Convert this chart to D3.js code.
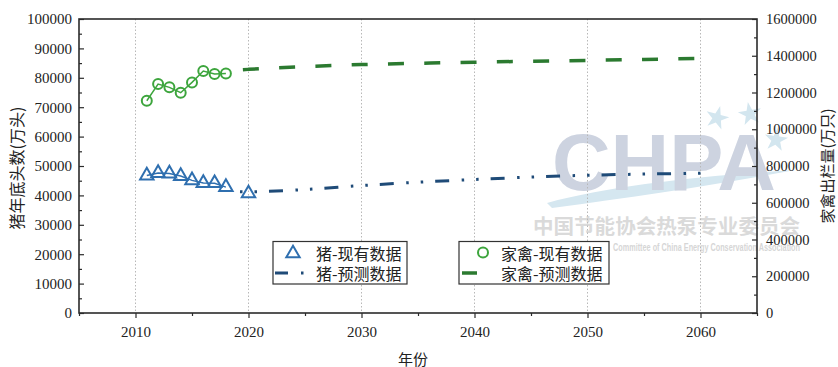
<!DOCTYPE html>
<html>
<head>
<meta charset="utf-8">
<script src="https://cdn.jsdelivr.net/npm/d3@7"></script>
<style>
  html, body { margin: 0; padding: 0; background: #fff; }
  svg { display: block; }
</style>
</head>
<body>
<svg id="chart" width="838" height="367"></svg>
<script>
// ---- data ----
const pigActualYears = [2011, 2012, 2013, 2014, 2015, 2016, 2017, 2018, 2020];
const pigActual = [46767, 47592, 47411, 46583, 45113, 44209, 44159, 42817, 40650];

const poultryActualYears = [2011, 2012, 2013, 2014, 2015, 2016, 2017, 2018];
const poultryActual = [1155000, 1246000, 1228000, 1199000, 1255000, 1317000, 1301000, 1304000];

const forecastYears = [2019, 2020, 2025, 2030, 2035, 2040, 2045, 2050, 2055, 2060];
const pigForecast = [41300, 41250, 42000, 43350, 44500, 45400, 46250, 46850, 47250, 47550];
const poultryForecast = [1322000, 1326000, 1341000, 1352000, 1359000, 1365000, 1370000, 1375000, 1380000, 1385000];

const yearTicks = [2010, 2020, 2030, 2040, 2050, 2060];
const yearMinorTicks = [2005, 2015, 2025, 2035, 2045, 2055, 2065];
const pigTicks = [0, 10000, 20000, 30000, 40000, 50000, 60000, 70000, 80000, 90000, 100000];
const poultryTicks = [0, 200000, 400000, 600000, 800000, 1000000, 1200000, 1400000, 1600000];

const legendLabels = ["猪-现有数据", "猪-预测数据", "家禽-现有数据", "家禽-预测数据"];

// ---- layout ----
const plot = { left: 79, right: 757, top: 19, bottom: 313 };
const numFont = "'Liberation Serif', 'DejaVu Serif', serif";
const cjkFont = "'Noto Sans CJK SC', 'Noto Sans', sans-serif";

const pigBlue = "#2f6faf";
const pigLine = "#1f4b78";
const poultryGreen = "#3da53d";
const poultryLine = "#2b7a30";
const axisColor = "#2b2b2b";

const svg = d3.select("#chart");

const x = d3.scaleLinear().domain([2005, 2065]).range([plot.left, plot.right]);
const yL = d3.scaleLinear().domain([0, 100000]).range([plot.bottom, plot.top]);
const yR = d3.scaleLinear().domain([0, 1600000]).range([plot.bottom, plot.top]);

// ---- association logo in the background ----
const wm = svg.append("g").attr("class", "logo");
wm.append("path")
  .attr("d", "M547,203 C610,186 700,176 795,170 C720,184 640,196 552,208 Z")
  .attr("fill", "#d5e7f0");
wm.append("text")
  .attr("x", 552).attr("y", 190)
  .attr("font-family", "'Liberation Sans', Arial, sans-serif")
  .attr("font-weight", "bold")
  .attr("font-size", 80)
  .attr("textLength", 224)
  .attr("lengthAdjust", "spacingAndGlyphs")
  .attr("fill", "#cdd3e0")
  .text("CHPA");
[[717, 118, 15], [750, 114, -10], [776, 140, 8]].forEach(([cx, cy, r]) => {
  wm.append("path")
    .attr("d", d3.symbol().type(d3.symbolStar).size(170)())
    .attr("transform", `translate(${cx},${cy}) rotate(${r})`)
    .attr("fill", "#d3e6ef");
});
wm.append("text")
  .attr("x", 533).attr("y", 234)
  .attr("font-family", cjkFont)
  .attr("font-weight", "bold")
  .attr("font-size", 20)
  .attr("textLength", 267)
  .attr("lengthAdjust", "spacingAndGlyphs")
  .attr("fill", "#dadada")
  .text("中国节能协会热泵专业委员会");
wm.append("text")
  .attr("x", 613).attr("y", 251)
  .attr("font-family", "'Liberation Sans', Arial, sans-serif")
  .attr("font-weight", "bold")
  .attr("font-size", 10)
  .attr("textLength", 187)
  .attr("lengthAdjust", "spacingAndGlyphs")
  .attr("fill", "#d6d6d6")
  .text("Committee of China Energy Conservation Association");

// ---- vertical grid ----
svg.append("g")
  .selectAll("line")
  .data(yearTicks)
  .join("line")
  .attr("x1", d => x(d)).attr("x2", d => x(d))
  .attr("y1", plot.top).attr("y2", plot.bottom)
  .attr("stroke", "#b8b8b8")
  .attr("stroke-width", 1)
  .attr("stroke-dasharray", "1.5,2");

// ---- axes ----
function styleAxis(g, fontSize) {
  g.select(".domain").remove();
  g.selectAll(".tick line").attr("stroke", axisColor).attr("stroke-width", 1.2);
  g.selectAll(".tick text")
    .attr("fill", "#222")
    .attr("font-family", numFont)
    .attr("font-size", fontSize);
}

// bottom
svg.append("g")
  .attr("transform", `translate(0,${plot.bottom})`)
  .call(d3.axisBottom(x).tickValues(yearTicks).tickFormat(d3.format("d")).tickSize(5).tickPadding(8))
  .call(g => styleAxis(g, 15));
svg.append("g")
  .attr("transform", `translate(0,${plot.bottom})`)
  .call(d3.axisBottom(x).tickValues(yearMinorTicks).tickFormat("").tickSize(3))
  .call(g => styleAxis(g, 15));

// left (ticks point into the plot)
svg.append("g")
  .attr("transform", `translate(${plot.left},0)`)
  .call(d3.axisLeft(yL).tickValues(pigTicks).tickFormat(d3.format("d")).tickSize(-5).tickPadding(7))
  .call(g => styleAxis(g, 15));
svg.append("g")
  .attr("transform", `translate(${plot.left},0)`)
  .call(d3.axisLeft(yL).tickValues(d3.range(5000, 100000, 10000)).tickFormat("").tickSize(-3))
  .call(g => styleAxis(g, 15));

// right (ticks point into the plot)
svg.append("g")
  .attr("transform", `translate(${plot.right},0)`)
  .call(d3.axisRight(yR).tickValues(poultryTicks).tickFormat(d3.format("d")).tickSize(-5).tickPadding(9))
  .call(g => styleAxis(g, 14.5));
svg.append("g")
  .attr("transform", `translate(${plot.right},0)`)
  .call(d3.axisRight(yR).tickValues(d3.range(100000, 1600000, 200000)).tickFormat("").tickSize(-3))
  .call(g => styleAxis(g, 14.5));

// frame
svg.append("rect")
  .attr("x", plot.left).attr("y", plot.top)
  .attr("width", plot.right - plot.left).attr("height", plot.bottom - plot.top)
  .attr("fill", "none")
  .attr("stroke", axisColor)
  .attr("stroke-width", 1.6);

// axis titles
svg.append("text")
  .attr("transform", `translate(16,${(plot.top + plot.bottom) / 2 + 2}) rotate(-90)`)
  .attr("text-anchor", "middle")
  .attr("dominant-baseline", "central")
  .attr("font-family", cjkFont)
  .attr("font-size", 16)
  .attr("fill", "#222")
  .text("猪年底头数(万头)");
svg.append("text")
  .attr("transform", `translate(826,${(plot.top + plot.bottom) / 2}) rotate(-90)`)
  .attr("text-anchor", "middle")
  .attr("dominant-baseline", "central")
  .attr("font-family", cjkFont)
  .attr("font-size", 15)
  .attr("fill", "#222")
  .text("家禽出栏量(万只)");
svg.append("text")
  .attr("x", 413).attr("y", 358)
  .attr("text-anchor", "middle")
  .attr("dominant-baseline", "central")
  .attr("font-family", cjkFont)
  .attr("font-size", 15)
  .attr("fill", "#222")
  .text("年份");

// ---- series ----
const pigPts = pigActualYears.map((yr, i) => ({ yr, v: pigActual[i] }));
const poultryPts = poultryActualYears.map((yr, i) => ({ yr, v: poultryActual[i] }));
const pigFc = forecastYears.map((yr, i) => ({ yr, v: pigForecast[i] }));
const poultryFc = forecastYears.map((yr, i) => ({ yr, v: poultryForecast[i] }));

const lineL = d3.line().x(d => x(d.yr)).y(d => yL(d.v)).curve(d3.curveMonotoneX);
const lineR = d3.line().x(d => x(d.yr)).y(d => yR(d.v)).curve(d3.curveMonotoneX);
const lineLStraight = d3.line().x(d => x(d.yr)).y(d => yL(d.v));
const lineRStraight = d3.line().x(d => x(d.yr)).y(d => yR(d.v));

// forecast lines
const pigDash = "2.5,12,2.5,12,14,12.5";
const poultryDash = "16,20.3";
svg.append("path")
  .attr("d", lineL(pigFc))
  .attr("fill", "none")
  .attr("stroke", pigLine)
  .attr("stroke-width", 3)
  .attr("stroke-dasharray", pigDash)
  .attr("stroke-dashoffset", 52.7);
svg.append("path")
  .attr("d", lineR(poultryFc))
  .attr("fill", "none")
  .attr("stroke", poultryLine)
  .attr("stroke-width", 3.5)
  .attr("stroke-dasharray", poultryDash)
  .attr("stroke-dashoffset", 30.6);

// observed connecting lines (continuous yearly records)
svg.append("path")
  .attr("d", lineLStraight(pigPts.filter(d => d.yr <= 2018)))
  .attr("fill", "none")
  .attr("stroke", pigBlue)
  .attr("stroke-width", 1.5);
svg.append("path")
  .attr("d", lineRStraight(poultryPts))
  .attr("fill", "none")
  .attr("stroke", poultryGreen)
  .attr("stroke-width", 1.5);

// markers
const tri = d3.symbol().type(d3.symbolTriangle).size(78);
svg.append("g")
  .selectAll("path")
  .data(pigPts)
  .join("path")
  .attr("d", tri())
  .attr("transform", d => `translate(${x(d.yr)},${yL(d.v)})`)
  .attr("fill", "none")
  .attr("stroke", pigBlue)
  .attr("stroke-width", 2);
svg.append("g")
  .selectAll("circle")
  .data(poultryPts)
  .join("circle")
  .attr("cx", d => x(d.yr))
  .attr("cy", d => yR(d.v))
  .attr("r", 5)
  .attr("fill", "none")
  .attr("stroke", poultryGreen)
  .attr("stroke-width", 2);

// ---- legends ----
function legendBox(x0, w) {
  const g = svg.append("g");
  g.append("rect")
    .attr("x", x0).attr("y", 241.5)
    .attr("width", w).attr("height", 42.5)
    .attr("fill", "#fff")
    .attr("stroke", "#333")
    .attr("stroke-width", 1.2);
  return g;
}
function legendText(g, tx, ty, label) {
  g.append("text")
    .attr("x", tx).attr("y", ty)
    .attr("dominant-baseline", "central")
    .attr("font-family", cjkFont)
    .attr("font-size", 16)
    .attr("fill", "#222")
    .text(label);
}
const rowA = 252.5, rowB = 273;

const lg1 = legendBox(273, 134);
lg1.append("path")
  .attr("d", tri())
  .attr("transform", `translate(293,${rowA + 1})`)
  .attr("fill", "none")
  .attr("stroke", pigBlue)
  .attr("stroke-width", 2);
lg1.append("path")
  .attr("d", d3.line()([[275, rowB], [304, rowB]]))
  .attr("stroke", pigLine)
  .attr("stroke-width", 3)
  .attr("stroke-dasharray", "13,13,2.5,100");
legendText(lg1, 316, rowA, legendLabels[0]);
legendText(lg1, 316, rowB, legendLabels[1]);

const lg2 = legendBox(459, 150);
lg2.append("circle")
  .attr("cx", 483).attr("cy", rowA)
  .attr("r", 5)
  .attr("fill", "none")
  .attr("stroke", poultryGreen)
  .attr("stroke-width", 2);
lg2.append("path")
  .attr("d", d3.line()([[462, rowB], [477, rowB]]))
  .attr("stroke", poultryLine)
  .attr("stroke-width", 3.5);
legendText(lg2, 501, rowA, legendLabels[2]);
legendText(lg2, 501, rowB, legendLabels[3]);
</script>
</body>
</html>
